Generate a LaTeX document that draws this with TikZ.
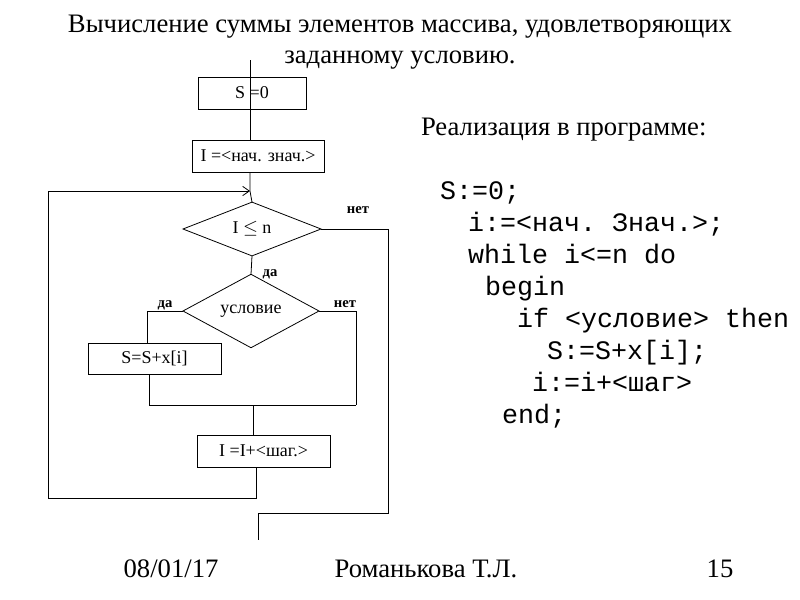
\documentclass[tikz,border=0pt]{standalone}
\usepackage{fontspec}
\setmainfont{Liberation Serif}
\setmonofont{Liberation Mono}
\usetikzlibrary{shapes.geometric,arrows.meta}
\begin{document}
\begin{tikzpicture}[x=0.75pt,y=-0.75pt,
  every node/.style={inner sep=0pt,outer sep=0pt},
  blk/.style={draw,line width=0.6pt,font=\fontsize{13.5}{15}\selectfont},
  dia/.style={draw,diamond,line width=0.6pt,font=\fontsize{13.5}{15}\selectfont},
  lbl/.style={anchor=base,font=\bfseries\fontsize{11}{12}\selectfont},
  ln/.style={line width=0.6pt},
  code/.style={anchor=base west,font=\ttfamily\fontsize{20}{22}\selectfont},
  big/.style={anchor=base,font=\fontsize{20}{22}\selectfont}]
\useasboundingbox[fill=white] (0,0) rectangle (800,600);
% title
\node[big] (t1) at (400,32) {Вычисление суммы элементов массива, удовлетворяющих};
\node[big] (t2) at (400,63) {заданному условию.};
% flowchart
\coordinate (spine) at (250,0);
\coordinate (top) at (250,60);
\node[blk,minimum width=81pt,minimum height=24pt] (s0) at (252,93) {S =0};
\node[blk,minimum width=99pt,minimum height=24pt] (init) at (258,156) {I =<нач. знач.>};
\coordinate (merge) at (250,191);
\node[dia,minimum width=103.5pt,minimum height=39pt] (d1) at (252,229) {I $\leq$ n};
\node[dia,minimum width=102pt,minimum height=39.75pt] (d2) at (251,311) {условие};
\node[blk,minimum width=99.75pt,minimum height=23.25pt] (sx) at (154.5,358.5) {S=S+x[i]};
\node[blk,minimum width=99.75pt,minimum height=24pt] (inc) at (263.5,451) {I =I+<шаг.>};
\coordinate (jl) at (149,405);
\coordinate (jr) at (356,405);
\coordinate (jm) at (253,405);
\coordinate (lb) at (48,498);
\coordinate (lt) at (48,191);
\coordinate (bm) at (256,498);
\coordinate (er) at (388,229);
\coordinate (eb) at (388,513);
\coordinate (ex) at (258,513);
\coordinate (exend) at (258,540);
\coordinate (ldx) at (147,0);
\draw[ln] (top) -- (s0.south -| spine);
\draw[ln] (s0.south -| spine) -- (init.north -| spine);
\draw[ln] (init.south -| spine) -- (merge) -- (d1.north);
\draw[ln,-{Straight Barb[length=5pt,width=7pt]}] (lb) -- (lt) -- (merge);
\draw[ln] (d1.south) -- (d2.north);
\draw[ln] (d1.east) -- (er) -- (eb) -- (ex) -- (exend);
\draw[ln] (d2.west) -- (d2.west -| ldx) -- (sx.north -| ldx);
\draw[ln] (d2.east) -- (d2.east -| jr) -- (jr);
\draw[ln] (sx.south -| jl) -- (jl) -- (jr);
\draw[ln] (jm) -- (inc.north -| jm);
\draw[ln] (inc.south -| bm) -- (bm) -- (lb);
\node[lbl] (no1) at (358,213) {нет};
\node[lbl] (yes1) at (270,276) {да};
\node[lbl] (yes2) at (165,307) {да};
\node[lbl] (no2) at (345,307) {нет};
% program
\node[big,anchor=base west] (impl) at (421,135) {Реализация в программе:};
\node[code] (c1) at (440,199) {S:=0;};
\node[code] (c2) at (468,231) {i:=<нач. Знач.>;};
\node[code] (c3) at (468,263) {while i<=n do};
\node[code] (c4) at (485,295) {begin};
\node[code] (c5) at (517,327) {if <условие> then};
\node[code] (c6) at (547,359) {S:=S+x[i];};
\node[code] (c7) at (532,391) {i:=i+<шаг>};
\node[code] (c8) at (502,423) {end;};
% footer
\node[big] (f1) at (171,577) {08/01/17};
\node[big] (f2) at (426,577) {Романькова Т.Л.};
\node[big] (f3) at (720,577) {15};
\end{tikzpicture}
\end{document}
